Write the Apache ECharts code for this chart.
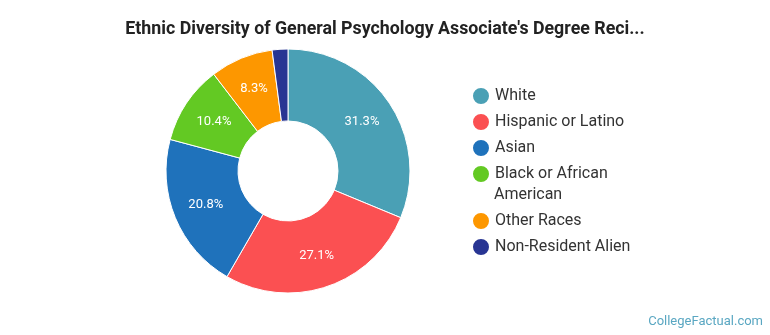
<!DOCTYPE html>
<html><head><meta charset="utf-8">
<script src="https://cdn.jsdelivr.net/npm/echarts@6/dist/echarts.min.js"></script>
<style>html,body{margin:0;padding:0;background:#fff}#c{width:770px;height:335px}</style>
</head><body><div id="c"></div>
<script>
const titleText = "Ethnic Diversity of General Psychology Associate's Degree Reci...";
const categories = ["White", "Hispanic or Latino", "Asian", "Black or African American", "Other Races", "Non-Resident Alien"];
const values = [15, 13, 10, 5, 4, 1];
const colors = ["#4aa0b5", "#fb5052", "#1f72bb", "#63c923", "#fd9700", "#283593"];
const footer = "CollegeFactual.com";

const chart = echarts.init(document.getElementById('c'));
const legendText = {fontFamily: 'Roboto', fontSize: 16, color: '#333', lineHeight: 21};
chart.setOption({
  animation: false,
  title: {text: titleText, left: 'center', top: 16,
    textStyle: {fontFamily: 'Roboto', fontSize: 17.8, fontWeight: 'bold', color: '#222'}},
  legend: [
    {data: categories.slice(0, 4).map(n => ({name: n})), orient: 'vertical', left: 466, top: 80.5,
     itemWidth: 18, itemHeight: 18, itemGap: 5, icon: 'circle', textStyle: legendText,
     formatter: n => n === "Black or African American" ? "Black or African" : n},
    {data: categories.slice(4).map(n => ({name: n})), orient: 'vertical', left: 466, top: 205.5,
     itemWidth: 18, itemHeight: 18, itemGap: 5, icon: 'circle', textStyle: legendText}
  ],
  graphic: [
    {type: 'text', left: 494, top: 187, style: {text: 'American', font: '16px Roboto', fill: '#333'}},
    {type: 'text', right: 7, top: 315, style: {text: footer, font: '13px Roboto', fill: '#5aa7c2'}}
  ],
  series: [{
    type: 'pie', center: [288, 171], radius: [50, 122], startAngle: 90, clockwise: true,
    data: categories.map((n, i) => ({name: n, value: values[i], itemStyle: {color: colors[i]}})),
    itemStyle: {borderColor: '#fff', borderWidth: 1},
    label: {position: 'inside', color: '#fff', fontFamily: 'Roboto', fontSize: 13,
      formatter: p => p.percent < 5 ? '' : (p.value / 48 * 100).toFixed(1) + '%'},
    labelLine: {show: false},
    emphasis: {disabled: true}
  }]
});
</script></body></html>
